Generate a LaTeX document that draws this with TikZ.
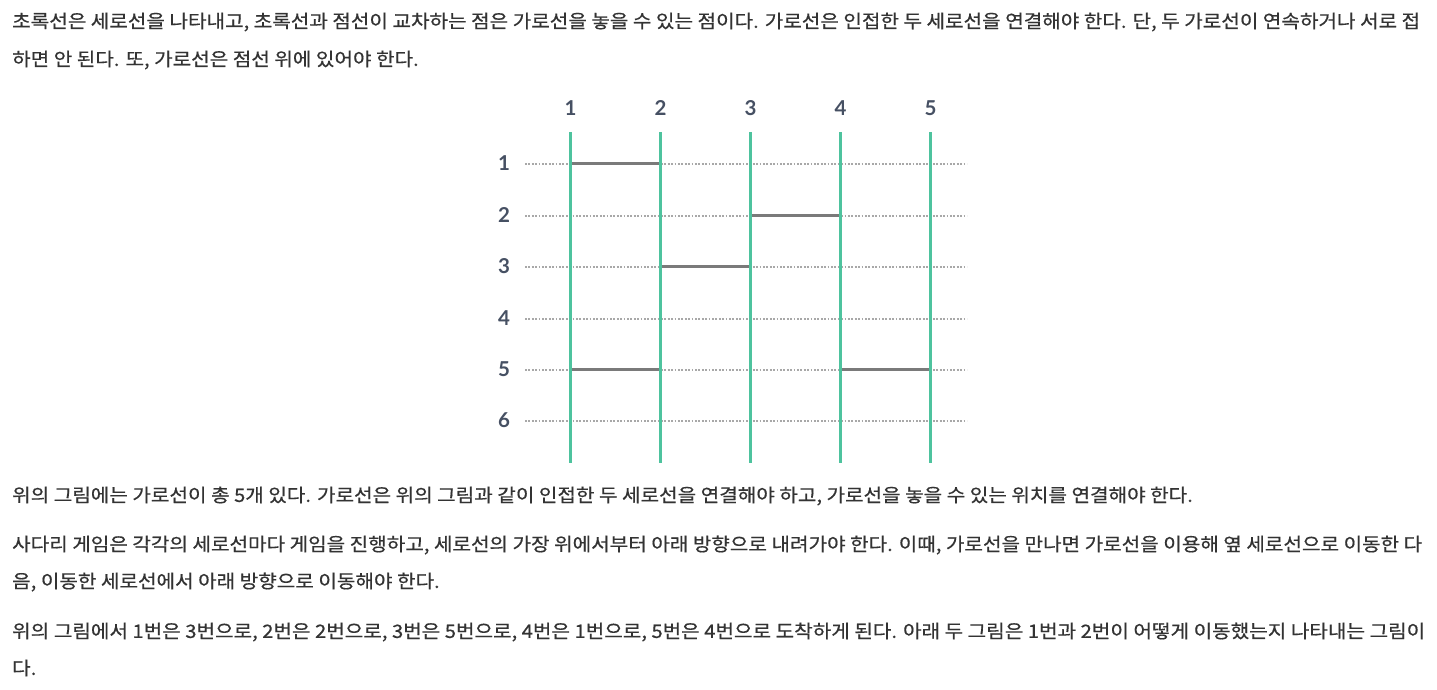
\documentclass[tikz,border=0pt]{standalone}
\usepackage{fontspec}
\usepackage{graphicx}
\newfontfamily\kr[FakeBold=0.5]{Noto Sans CJK KR}
\newfontfamily\lab{Lato}
\definecolor{txt}{HTML}{333333}
\definecolor{labc}{HTML}{465063}
\definecolor{vgreen}{HTML}{4EC39E}
\definecolor{rung}{HTML}{7A7A7A}
\definecolor{dotc}{HTML}{A8A8A8}
\newcommand\txtfont{\kr\fontsize{18.5}{22}\selectfont}
\newlength\fitw
\newlength\refw
\newcommand\fitto[2]{\settowidth\fitw{\txtfont #2}\pgfmathsetmacro\fitf{#1/\fitw}\scalebox{\fitf}[1]{\txtfont #2}}
\newcommand\lineA{초록선은 세로선을 나타내고, 초록선과 점선이 교차하는 점은 가로선을 놓을 수 있는 점이다. 가로선은 인접한 두 세로선을 연결해야 한다. 단, 두 가로선이 연속하거나 서로 접}
\newcommand\krs[1]{\scalebox{\krf}[1]{\txtfont #1}}
\tikzset{
  para/.style={anchor=west, inner sep=0pt, text=txt, font=\txtfont},
  numlab/.style={inner sep=0pt, text=labc, font=\lab\bfseries\fontsize{20.5}{22}\selectfont},
  vline/.style={draw=vgreen, line width=3pt},
  rungline/.style={draw=rung, line width=3pt},
  dotline/.style={draw=dotc, line width=2pt, dash pattern=on 1.8pt off 1.6pt}
}
\begin{document}
\settowidth\refw{\txtfont\lineA}%
\pgfmathsetmacro\krf{1408/\refw}%
\begin{tikzpicture}[x=1pt,y=-1pt]
\fill[white] (0,0) rectangle (1437,689);
\useasboundingbox (0,0) rectangle (1437,689);
% text
\node[para] (tA) at (12,22) {\fitto{1408}{\lineA}};
\node[para] (tB) at (12,60) {\krs{하면 안 된다. 또, 가로선은 점선 위에 있어야 한다.}};
\node[para] (tC) at (12,496) {\krs{위의 그림에는 가로선이 총 5개 있다. 가로선은 위의 그림과 같이 인접한 두 세로선을 연결해야 하고, 가로선을 놓을 수 있는 위치를 연결해야 한다.}};
\node[para] (tD) at (12,545) {\fitto{1410}{사다리 게임은 각각의 세로선마다 게임을 진행하고, 세로선의 가장 위에서부터 아래 방향으로 내려가야 한다. 이때, 가로선을 만나면 가로선을 이용해 옆 세로선으로 이동한 다}};
\node[para] (tE) at (12,582) {\krs{음, 이동한 세로선에서 아래 방향으로 이동해야 한다.}};
\node[para] (tF) at (12,632) {\fitto{1413}{위의 그림에서 1번은 3번으로, 2번은 2번으로, 3번은 5번으로, 4번은 1번으로, 5번은 4번으로 도착하게 된다. 아래 두 그림은 1번과 2번이 어떻게 이동했는지 나타내는 그림이}};
\node[para] (tG) at (12,668) {\krs{다.}};
% grid coordinates
\foreach \c/\x in {1/570.5,2/660.5,3/750.5,4/840.5,5/930.5}{
  \coordinate (top\c) at (\x,132);
  \coordinate (bot\c) at (\x,463);
  \node[numlab] (col\c) at (\x,108) {\c};
  \foreach \r/\y in {1/163.5,2/215.5,3/266.5,4/318.5,5/369.5,6/420.5}{
    \coordinate (p\c-\r) at (\x,\y);
  }
}
\foreach \r/\y in {1/163.5,2/215.5,3/266.5,4/318.5,5/369.5,6/420.5}{
  \node[numlab] (row\r) at (504,\y) {\r};
  \coordinate (dl\r) at (525,\y);
  \coordinate (dr\r) at (967,\y);
  \draw[dotline] (dl\r) -- (dr\r);
}
% rungs
\draw[rungline] (p1-1) -- (p2-1);
\draw[rungline] (p3-2) -- (p4-2);
\draw[rungline] (p2-3) -- (p3-3);
\draw[rungline] (p1-5) -- (p2-5);
\draw[rungline] (p4-5) -- (p5-5);
% vertical lines
\foreach \c in {1,...,5}{ \draw[vline] (top\c) -- (bot\c); }
\end{tikzpicture}
\end{document}
